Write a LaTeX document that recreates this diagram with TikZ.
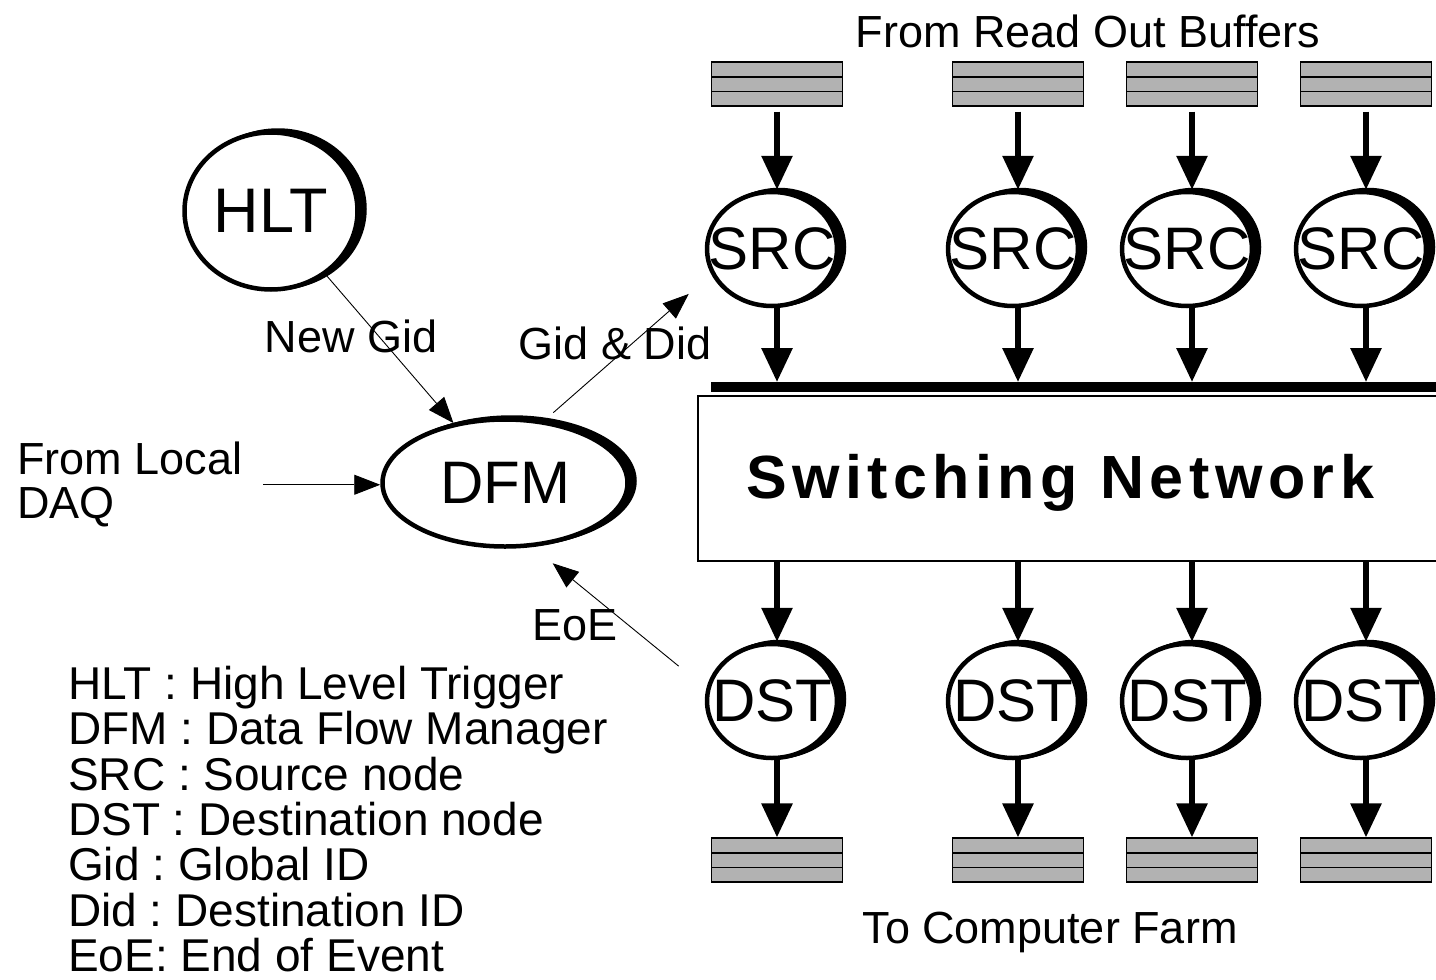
\documentclass[tikz,border=0pt]{standalone}
\usepackage{fontspec}
\setmainfont{Liberation Sans}
\usepackage{tikz}
\usetikzlibrary{arrows.meta, shapes.geometric, shadows}
\frenchspacing

\begin{document}
\begin{tikzpicture}[
      x=1pt, y=-1pt,
      proc/.style = {
        ellipse, draw=black, fill=white, line width=4.5pt,
        minimum width=130pt, minimum height=114pt,
        inner xsep=-40pt, inner ysep=0pt,
        double copy shadow={shadow xshift=3.5pt, shadow yshift=1pt},
        font=\fontsize{60}{60}\selectfont
      },
      buffer/.style = {
        rectangle, draw=black, fill=gray!60, line width=1.2pt,
        minimum width=131pt, minimum height=44pt, inner sep=0pt,
        path picture={
          \draw[line width=1.6pt] ([yshift=-14.7pt]path picture bounding box.north west)
            -- ([yshift=-14.7pt]path picture bounding box.north east);
          \draw[line width=1.6pt] ([yshift=14.7pt]path picture bounding box.south west)
            -- ([yshift=14.7pt]path picture bounding box.south east);
        }
      },
      flow/.style = {line width=6pt, -{Triangle[width=30pt, length=34pt]}},
      msg/.style  = {line width=0.9pt, -{Triangle[width=20pt, length=26pt]}},
      txt/.style  = {font=\fontsize{45}{44}\selectfont, inner sep=0pt}
    ]

    \fill[white] (0,0) rectangle (1436,980);
    \useasboundingbox (0,0) rectangle (1436,980);

    % trigger side
    \node[proc, minimum width=173pt, minimum height=157pt,
          font=\fontsize{63}{63}\selectfont] (hlt) at (271,211) {HLT};
    \node[proc, minimum width=245pt, minimum height=127pt] (dfm) at (505,483) {DFM};

    % read out buffers and sources
    \node[buffer] (rob1) at ( 777,84) {};
    \node[buffer] (rob2) at (1018,84) {};
    \node[buffer] (rob3) at (1192,84) {};
    \node[buffer] (rob4) at (1366,84) {};

    \node[proc] (src1) at ( 772,249) {SRC};
    \node[proc] (src2) at (1013,249) {SRC};
    \node[proc] (src3) at (1187,249) {SRC};
    \node[proc] (src4) at (1361,249) {SRC};

    % network
    \coordinate (busL) at (711,387);
    \node[draw, line width=1.5pt, anchor=north west, inner sep=0pt,
          minimum width=760pt, minimum height=165pt] (switch) at (697,395) {};
    \draw[line width=10pt] (busL) -- (busL -| switch.east);
    \node[font=\fontsize{61}{61}\selectfont\bfseries\addfontfeatures{LetterSpace=9},
          inner sep=0pt, anchor=base] (swlabel) at (1060,498) {Switching Network};

    % destinations and farm buffers
    \node[proc] (dst1) at ( 772,701) {DST};
    \node[proc] (dst2) at (1013,701) {DST};
    \node[proc] (dst3) at (1187,701) {DST};
    \node[proc] (dst4) at (1361,701) {DST};

    \node[buffer] (farm1) at ( 777,860) {};
    \node[buffer] (farm2) at (1018,860) {};
    \node[buffer] (farm3) at (1192,860) {};
    \node[buffer] (farm4) at (1366,860) {};

    % data flow
    \draw[flow, shorten <=5pt] (rob1) -- (rob1 |- src1.north);
    \draw[flow, shorten <=5pt] (rob2) -- (rob2 |- src2.north);
    \draw[flow, shorten <=5pt] (rob3) -- (rob3 |- src3.north);
    \draw[flow, shorten <=5pt] (rob4) -- (rob4 |- src4.north);

    \draw[flow, shorten >=5pt] (rob1 |- src1.south) -- (rob1 |- busL);
    \draw[flow, shorten >=5pt] (rob2 |- src2.south) -- (rob2 |- busL);
    \draw[flow, shorten >=5pt] (rob3 |- src3.south) -- (rob3 |- busL);
    \draw[flow, shorten >=5pt] (rob4 |- src4.south) -- (rob4 |- busL);

    \draw[flow] (rob1 |- switch.south) -- (rob1 |- dst1.north);
    \draw[flow] (rob2 |- switch.south) -- (rob2 |- dst2.north);
    \draw[flow] (rob3 |- switch.south) -- (rob3 |- dst3.north);
    \draw[flow] (rob4 |- switch.south) -- (rob4 |- dst4.north);

    \draw[flow] (rob1 |- dst1.south) -- (farm1);
    \draw[flow] (rob2 |- dst2.south) -- (farm2);
    \draw[flow] (rob3 |- dst3.south) -- (farm3);
    \draw[flow] (rob4 |- dst4.south) -- (farm4);

    % control messages
    \node[txt, align=left, anchor=north west] (daq) at (17,442) {From Local\\DAQ};
    \draw[msg, shorten <=21pt] (daq.east) -- (daq.east -| dfm.west);
    \draw[msg] (hlt) -- (dfm);
    \draw[msg, transform canvas={xshift=-16pt, yshift=14pt}, shorten >=26pt] (dfm) -- (src1);
    \draw[msg, transform canvas={xshift=-20pt, yshift=-25pt}, shorten <=31pt] (dst1) -- (dfm);

    \node[txt, anchor=base] (newgid) at (351,352) {New Gid};
    \node[txt, anchor=base] (giddid) at (615,359) {Gid \& Did};
    \node[txt, anchor=base] (eoe)    at (575,640) {EoE};

    \node[txt, anchor=base] (robtitle)  at (1088,47)  {From Read Out Buffers};
    \node[txt, anchor=base] (farmtitle) at (1050,943) {To Computer Farm};

    % abbreviations
    \node[txt, font=\fontsize{46}{45.3}\selectfont, align=left, anchor=north west]
      (legend) at (68,666) {HLT : High Level Trigger\\
                            DFM : Data Flow Manager\\
                            SRC : Source node\\
                            DST : Destination node\\
                            Gid : Global ID\\
                            Did : Destination ID\\
                            EoE: End of Event};

  \end{tikzpicture}
\end{document}
